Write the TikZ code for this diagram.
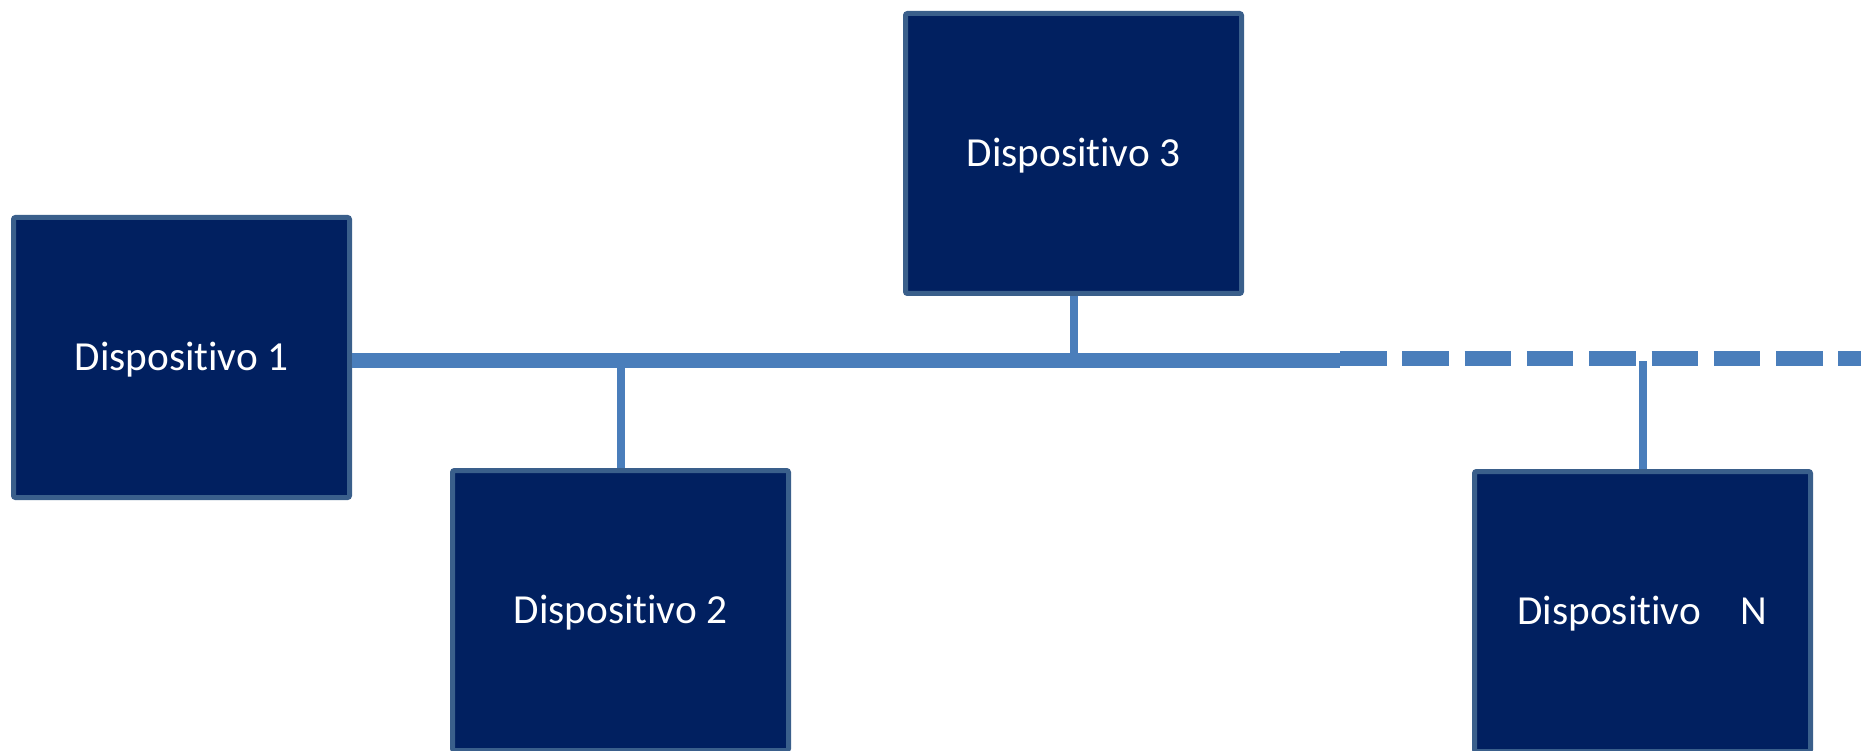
\documentclass[tikz,border=0pt]{standalone}
\usepackage{fontspec}
\setmainfont[Ligatures={NoCommon}]{Carlito}
\definecolor{boxfill}{HTML}{012060}
\definecolor{boxedge}{HTML}{3A5F8B}
\definecolor{busblue}{HTML}{4A7EBB}
\tikzset{
  device/.style={rectangle, draw=boxedge, fill=boxfill, line width=5pt,
    rounded corners=2pt, minimum width=336pt, minimum height=280pt,
    inner sep=0pt, text=white, font=\fontsize{41.3}{50}\selectfont,
    text height=26.6pt, text depth=0pt},
  busline/.style={draw=busblue, line width=15pt},
  dashbus/.style={draw=busblue, line width=15pt, dash pattern=on 46.5pt off 15.8pt},
  stem/.style={draw=busblue, line width=8pt}
}
\begin{document}
\begin{tikzpicture}[x=1pt,y=-1pt]
\useasboundingbox (0,0) rectangle (1861,751);
\clip (0,0) rectangle (1861,751);
\node[device] (d1) at (181.5,357.5) {Dispositivo 1};
\node[device] (d3) at (1073.5,153.5) {Dispositivo 3};
\node[device] (d2) at (620.5,610.5) {Dispositivo 2};
\node[device] (dn) at (1642.5,611.5) {Dispositivo\hspace{40pt}N};
\coordinate (busend) at (1340,360.5);
\coordinate (dashstart) at (1340,358.5);
\coordinate (dashend) at (1875,358.5);
\path[busline] (d1.east |- busend) -- (busend);
\path[dashbus] (dashstart) -- (dashend);
\path[stem] (d3.south) -- (d3.south |- busend);
\path[stem] (d2.north) -- (d2.north |- busend);
\path[stem] (dn.north) -- (dn.north |- busend);
\end{tikzpicture}
\end{document}
